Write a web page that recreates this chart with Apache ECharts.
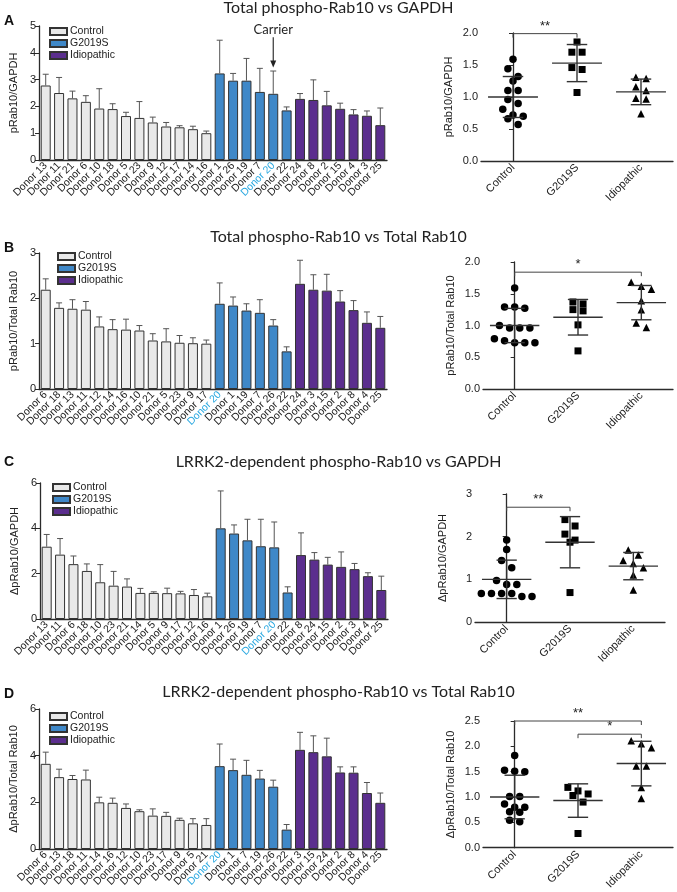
<!DOCTYPE html>
<html>
<head>
<meta charset="utf-8">
<script src="https://cdn.jsdelivr.net/npm/echarts@6/dist/echarts.min.js"></script>
<style>
  html, body { margin: 0; background: #fff; }
  #chart { width: 677px; height: 892px; }
</style>
</head>
<body>
<div id="chart"></div>
<script>
'use strict'
var groups = ['Control', 'G2019S', 'Idiopathic'];
var groupSizes = [13, 6, 7];
var carrier = 'Donor 20';

/*----- A: total pRab10 / GAPDH -----*/
var donorsA = ['Donor 13','Donor 11','Donor 21','Donor 6','Donor 10','Donor 18','Donor 5','Donor 23','Donor 9','Donor 12','Donor 17','Donor 14','Donor 16',
  'Donor 1','Donor 26','Donor 19','Donor 7','Donor 20','Donor 22',
  'Donor 24','Donor 8','Donor 2','Donor 15','Donor 4','Donor 3','Donor 25'];
var valuesA = [2.78, 2.5, 2.3, 2.17, 1.92, 1.9, 1.64, 1.57, 1.4, 1.25, 1.22, 1.15, 1.0,
  3.23, 2.96, 2.96, 2.54, 2.47, 1.85,
  2.28, 2.24, 2.04, 1.91, 1.7, 1.65, 1.3];
var errA = [3.2, 3.08, 2.57, 2.4, 2.66, 2.1, 1.78, 2.18, 1.6, 1.4, 1.28, 1.26, 1.08,
  4.47, 3.23, 3.79, 3.42, 3.32, 1.98,
  2.48, 2.99, 2.56, 2.12, 1.88, 1.83, 1.94];
var carrierA = [4.58, 3.45];
var ctrlA = [1.59, 1.44, 1.32, 1.25, 1.10, 1.10, 0.96, 0.90, 0.81, 0.72, 0.70, 0.66, 0.57];
var gsA = [1.86, 1.70, 1.70, 1.46, 1.43, 1.07];
var idA = [1.31, 1.29, 1.16, 1.10, 0.98, 0.97, 0.74];
var meanA = [1.0, 1.53, 1.08];
var sdA = [0.32, 0.29, 0.2];
var sigA = [[0, 1, 1.99, '**']];

/*----- B: total pRab10 / total Rab10 -----*/
var donorsB = ['Donor 6','Donor 18','Donor 13','Donor 11','Donor 12','Donor 14','Donor 16','Donor 10','Donor 21','Donor 5','Donor 23','Donor 9','Donor 17',
  'Donor 20','Donor 1','Donor 19','Donor 7','Donor 26','Donor 22',
  'Donor 24','Donor 3','Donor 15','Donor 2','Donor 8','Donor 4','Donor 25'];
var valuesB = [2.19, 1.79, 1.77, 1.75, 1.38, 1.32, 1.31, 1.29, 1.07, 1.05, 1.02, 1.01, 1.0,
  1.88, 1.84, 1.73, 1.68, 1.4, 0.83,
  2.32, 2.19, 2.17, 1.93, 1.74, 1.46, 1.35];
var errB = [2.43, 1.9, 1.97, 1.93, 1.59, 1.53, 1.54, 1.4, 1.22, 1.33, 1.18, 1.13, 1.08,
  2.34, 2.03, 1.88, 1.97, 1.53, 0.93,
  2.84, 2.52, 2.53, 2.17, 1.95, 1.7, 1.6];
var ctrlB = [1.59, 1.29, 1.29, 1.27, 1.0, 0.96, 0.96, 0.96, 0.79, 0.76, 0.73, 0.73, 0.73];
var gsB = [1.37, 1.34, 1.25, 1.23, 1.01, 0.60];
var idB = [1.68, 1.62, 1.57, 1.39, 1.25, 1.04, 0.97];
var meanB = [1.0, 1.13, 1.36];
var sdB = [0.27, 0.28, 0.27];
var sigB = [[0, 2, 1.84, '*']];

/*----- C: LRRK2-dependent pRab10 / GAPDH -----*/
var donorsC = ['Donor 13','Donor 11','Donor 6','Donor 18','Donor 10','Donor 23','Donor 21','Donor 14','Donor 5','Donor 9','Donor 17','Donor 12','Donor 16',
  'Donor 1','Donor 26','Donor 19','Donor 7','Donor 20','Donor 22',
  'Donor 8','Donor 24','Donor 15','Donor 2','Donor 3','Donor 4','Donor 25'];
var valuesC = [3.19, 2.84, 2.42, 2.12, 1.62, 1.47, 1.43, 1.15, 1.15, 1.14, 1.13, 1.06, 1.0,
  4.0, 3.77, 3.47, 3.21, 3.16, 1.17,
  2.82, 2.62, 2.4, 2.3, 2.2, 1.89, 1.28];
var errC = [3.73, 3.55, 2.78, 2.43, 2.4, 2.1, 1.77, 1.35, 1.2, 1.36, 1.22, 1.3, 1.14,
  5.65, 4.15, 4.4, 4.4, 4.28, 1.42,
  3.8, 2.93, 2.72, 2.96, 2.45, 2.04, 1.89];
var ctrlC = [1.92, 1.70, 1.44, 1.27, 0.97, 0.88, 0.88, 0.67, 0.67, 0.67, 0.67, 0.60, 0.60];
var gsC = [2.40, 2.25, 2.06, 1.92, 1.87, 0.69];
var idC = [1.69, 1.57, 1.44, 1.37, 1.27, 1.10, 0.75];
var meanC = [1.0, 1.87, 1.31];
var sdC = [0.45, 0.6, 0.32];
var sigC = [[0, 1, 2.69, '**']];

/*----- D: LRRK2-dependent pRab10 / total Rab10 -----*/
var donorsD = ['Donor 6','Donor 13','Donor 18','Donor 11','Donor 14','Donor 16','Donor 12','Donor 10','Donor 23','Donor 17','Donor 9','Donor 5','Donor 21',
  'Donor 20','Donor 1','Donor 7','Donor 19','Donor 26','Donor 22',
  'Donor 3','Donor 15','Donor 24','Donor 2','Donor 8','Donor 4','Donor 25'];
var valuesD = [3.65, 3.08, 3.0, 2.98, 2.0, 1.98, 1.76, 1.62, 1.43, 1.42, 1.25, 1.1, 1.03,
  3.55, 3.38, 3.18, 3.02, 2.67, 0.83,
  4.25, 4.15, 3.97, 3.28, 3.27, 2.4, 1.98];
var errD = [4.15, 3.42, 3.15, 3.38, 2.22, 2.18, 1.93, 1.68, 1.72, 1.57, 1.32, 1.3, 1.3,
  4.5, 3.85, 3.8, 3.37, 2.95, 1.05,
  5.0, 4.85, 4.75, 3.52, 3.52, 2.85, 2.4];
var ctrlD = [1.82, 1.53, 1.51, 1.50, 1.01, 1.01, 0.86, 0.80, 0.80, 0.71, 0.70, 0.54, 0.51];
var gsD = [1.19, 1.12, 1.06, 1.03, 0.90, 0.28];
var idD = [2.11, 2.05, 1.97, 1.61, 1.61, 1.19, 0.97];
var meanD = [1.0, 0.93, 1.66];
var sdD = [0.43, 0.33, 0.44];
var sigD = [[0, 2, 2.5, '**'], [1, 2, 2.24, '*']];

var barColors = ['#e9e9e9', '#3f88c8', '#5b2e8e'];
var symbols = ['circle', 'rect', 'triangle'];
var ink = '#2b2b2b';
var font = 'Liberation Sans';

var panels = [
  { letter: 'A', title: 'Total phospho-Rab10 vs GAPDH', yName: 'pRab10/GAPDH',
    donors: donorsA, values: valuesA, err: errA, barMax: 5, barStep: 1, carrier: carrierA,
    pts: [ctrlA, gsA, idA], mean: meanA, sd: sdA, sig: sigA, scMax: 2, scStep: 0.5, dec: 1,
    titleTop: 0, letterTop: 14, legendTop: 21, legendLeft: 44,
    bar: { left: 39, top: 26, width: 348, height: 134 }, sc: { left: 481, top: 33, width: 192, height: 128 } },
  { letter: 'B', title: 'Total phospho-Rab10 vs Total Rab10', yName: 'pRab10/Total Rab10',
    donors: donorsB, values: valuesB, err: errB, barMax: 3, barStep: 1,
    pts: [ctrlB, gsB, idB], mean: meanB, sd: sdB, sig: sigB, scMax: 2, scStep: 0.5, dec: 1,
    titleTop: 229, letterTop: 241, legendTop: 246, legendLeft: 52,
    bar: { left: 39, top: 253, width: 348, height: 136 }, sc: { left: 483, top: 262, width: 190, height: 127 } },
  { letter: 'C', title: 'LRRK2-dependent phospho-Rab10 vs GAPDH', yName: '\u0394pRab10/GAPDH',
    donors: donorsC, values: valuesC, err: errC, barMax: 6, barStep: 2,
    pts: [ctrlC, gsC, idC], mean: meanC, sd: sdC, sig: sigC, scMax: 3, scStep: 1, dec: 0,
    titleTop: 454, letterTop: 455, legendTop: 477, legendLeft: 47,
    bar: { left: 40, top: 483, width: 348, height: 136 }, sc: { left: 475, top: 494, width: 190, height: 128 } },
  { letter: 'D', title: 'LRRK2-dependent phospho-Rab10 vs Total Rab10', yName: '\u0394pRab10/Total Rab10',
    donors: donorsD, values: valuesD, err: errD, barMax: 6, barStep: 2,
    pts: [ctrlD, gsD, idD], mean: meanD, sd: sdD, sig: sigD, scMax: 2.5, scStep: 0.5, dec: 1,
    titleTop: 684, letterTop: 687, legendTop: 706, legendLeft: 44,
    bar: { left: 39, top: 709, width: 348, height: 140 }, sc: { left: 483, top: 721, width: 190, height: 128 } }
];

function groupOf(i) {
  if (i < groupSizes[0]) return 0;
  if (i < groupSizes[0] + groupSizes[1]) return 1;
  return 2;
}

// spread points of similar value sideways, like a scatter dot plot
function swarm(vals, gi, range) {
  var sorted = vals.slice().sort(function (a, b) { return b - a; });
  var thr = range * 0.06, step = 0.16;
  var out = [], row = [];
  function flush() {
    row.forEach(function (v, j) { out.push([gi + (j - (row.length - 1) / 2) * step, v]); });
    row = [];
  }
  sorted.forEach(function (v) {
    if (row.length && row[0] - v > thr) flush();
    row.push(v);
  });
  flush();
  return out;
}

function renderErr(params, api) {
  var p0 = api.coord([api.value(0), api.value(1)]);
  var p1 = api.coord([api.value(0), api.value(2)]);
  var st = { stroke: '#555', lineWidth: 1 };
  return { type: 'group', children: [
    { type: 'line', shape: { x1: p0[0], y1: p0[1], x2: p1[0], y2: p1[1] }, style: st },
    { type: 'line', shape: { x1: p1[0] - 3, y1: p1[1], x2: p1[0] + 3, y2: p1[1] }, style: st }
  ]};
}

function renderCarrier(params, api) {
  var top = api.coord([api.value(0), api.value(1)]);
  var tip = api.coord([api.value(0), api.value(2)]);
  return { type: 'group', children: [
    { type: 'text', style: { text: 'Carrier', x: top[0], y: top[1] - 1, align: 'center', verticalAlign: 'bottom',
        font: '13px Lato', fill: '#222' } },
    { type: 'line', shape: { x1: top[0], y1: top[1], x2: tip[0], y2: tip[1] - 5 }, style: { stroke: '#222', lineWidth: 1.1 } },
    { type: 'polygon', shape: { points: [[tip[0] - 3, tip[1] - 7], [tip[0] + 3, tip[1] - 7], [tip[0], tip[1]]] }, style: { fill: '#222' } }
  ]};
}

function renderMean(params, api) {
  var x = api.value(0), m = api.value(1), s = api.value(2);
  var a = api.coord([x - 0.39, m]), b = api.coord([x + 0.39, m]);
  var hi = api.coord([x, m + s]), lo = api.coord([x, m - s]);
  var hl = api.coord([x - 0.16, m + s]), hr = api.coord([x + 0.16, m + s]);
  var ll = api.coord([x - 0.16, m - s]), lr = api.coord([x + 0.16, m - s]);
  var st = { stroke: '#333', lineWidth: 1.4 };
  return { type: 'group', children: [
    { type: 'line', shape: { x1: a[0], y1: a[1], x2: b[0], y2: b[1] }, style: st },
    { type: 'line', shape: { x1: hi[0], y1: hi[1], x2: lo[0], y2: lo[1] }, style: st },
    { type: 'line', shape: { x1: hl[0], y1: hl[1], x2: hr[0], y2: hr[1] }, style: st },
    { type: 'line', shape: { x1: ll[0], y1: ll[1], x2: lr[0], y2: lr[1] }, style: st }
  ]};
}

function makeSig(list) {
  return function (params, api) {
    var s = list[params.dataIndex];
    var a = api.coord([s[0], s[2]]), b = api.coord([s[1], s[2]]);
    var st = { stroke: '#444', lineWidth: 1 };
    return { type: 'group', children: [
      { type: 'line', shape: { x1: a[0], y1: a[1], x2: b[0], y2: b[1] }, style: st },
      { type: 'line', shape: { x1: a[0], y1: a[1], x2: a[0], y2: a[1] + 4 }, style: st },
      { type: 'line', shape: { x1: b[0], y1: b[1], x2: b[0], y2: b[1] + 4 }, style: st },
      { type: 'text', style: { text: s[3], x: (a[0] + b[0]) / 2, y: a[1] - 1, align: 'center', verticalAlign: 'bottom',
          font: '13px ' + font, fill: '#222' } }
    ]};
  };
}

var axisLine = { lineStyle: { color: ink, width: 1.3 } };

var option = {
  animation: false,
  textStyle: { fontFamily: font },
  title: [], legend: [], grid: [], xAxis: [], yAxis: [], series: []
};

panels.forEach(function (p) {
  option.title.push({ text: p.title, left: 'center', top: p.titleTop, padding: 0,
    textStyle: { fontSize: 16, fontWeight: 'normal', fontFamily: 'Lato', color: '#222' } });
  option.title.push({ text: p.letter, left: 4, top: p.letterTop, padding: 0,
    textStyle: { fontSize: 14, fontWeight: 'bold', fontFamily: font, color: '#111' } });
  option.legend.push({ data: groups, left: p.legendLeft, top: p.legendTop, orient: 'vertical',
    icon: 'rect', itemWidth: 17, itemHeight: 7, itemGap: 1, selectedMode: false,
    textStyle: { fontSize: 10.5, color: '#222', padding: [0, 0, 0, -2] } });

  /*-----bar chart-----*/
  var gb = option.grid.length;
  option.grid.push(p.bar);
  var xb = option.xAxis.length;
  option.xAxis.push({ type: 'category', gridIndex: gb, data: p.donors,
    axisLine: axisLine, axisTick: { alignWithLabel: true, length: 4, lineStyle: { color: ink } },
    axisLabel: { interval: 0, rotate: 45, fontSize: 10.5, color: '#222', margin: 4,
      formatter: function (v) { return v === carrier ? '{hl|' + v + '}' : v; },
      rich: { hl: { color: '#2aa8e0', fontSize: 10.5 } } } });
  var yb = option.yAxis.length;
  option.yAxis.push({ type: 'value', gridIndex: gb, min: 0, max: p.barMax, interval: p.barStep,
    name: p.yName, nameLocation: 'middle', nameGap: 20, nameTextStyle: { fontSize: 11, color: '#222' },
    axisLine: { show: true, lineStyle: { color: ink, width: 1.3 } }, axisTick: { show: true, length: 4, lineStyle: { color: ink } },
    axisLabel: { fontSize: 11, color: '#222', margin: 3 }, splitLine: { show: false } });

  groups.forEach(function (g, gi) {
    option.series.push({ name: g, type: 'bar', xAxisIndex: xb, yAxisIndex: yb, barWidth: 10, barGap: '-100%',
      itemStyle: { color: barColors[gi], borderColor: '#333', borderWidth: 1 },
      data: p.values.map(function (v, i) { return groupOf(i) === gi ? v : '-'; }) });
  });
  option.series.push({ type: 'custom', xAxisIndex: xb, yAxisIndex: yb, z: 3, renderItem: renderErr,
    data: p.values.map(function (v, i) { return [i, v, p.err[i]]; }) });
  if (p.carrier) {
    option.series.push({ type: 'custom', xAxisIndex: xb, yAxisIndex: yb, z: 4, renderItem: renderCarrier,
      data: [[p.donors.indexOf(carrier), p.carrier[0], p.carrier[1]]] });
  }

  /*-----scatter dot plot-----*/
  var gs = option.grid.length;
  option.grid.push(p.sc);
  option.xAxis.push({ type: 'category', gridIndex: gs, data: groups,
    axisLine: axisLine, axisTick: { alignWithLabel: true, length: 4, lineStyle: { color: ink } },
    axisLabel: { rotate: 45, fontSize: 11, color: '#222', margin: 5 } });
  var xv = option.xAxis.length;
  option.xAxis.push({ type: 'value', gridIndex: gs, min: -0.5, max: 2.5, show: false });
  var ys = option.yAxis.length;
  option.yAxis.push({ type: 'value', gridIndex: gs, min: 0, max: p.scMax, interval: p.scStep,
    name: p.yName, nameLocation: 'middle', nameGap: 27, nameTextStyle: { fontSize: 11, color: '#222' },
    axisLine: { show: true, lineStyle: { color: ink, width: 1.3 } }, axisTick: { show: true, length: 4, lineStyle: { color: ink } },
    axisLabel: { fontSize: 11, color: '#222', margin: 3, formatter: function (v) { return v.toFixed(p.dec); } },
    splitLine: { show: false } });

  groups.forEach(function (g, gi) {
    option.series.push({ type: 'scatter', xAxisIndex: xv, yAxisIndex: ys, symbol: symbols[gi],
      symbolSize: gi === 1 ? 7 : 7.5, itemStyle: { color: '#000', opacity: 1 }, z: 3,
      data: swarm(p.pts[gi], gi, p.scMax) });
  });
  option.series.push({ type: 'custom', xAxisIndex: xv, yAxisIndex: ys, z: 4, renderItem: renderMean,
    data: p.mean.map(function (m, gi) { return [gi, m, p.sd[gi]]; }) });
  option.series.push({ type: 'custom', xAxisIndex: xv, yAxisIndex: ys, z: 4, renderItem: makeSig(p.sig),
    data: p.sig.map(function (s) { return [s[0], s[2]]; }) });
});

var chart = echarts.init(document.getElementById('chart'));
chart.setOption(option);
</script>
</body>
</html>
